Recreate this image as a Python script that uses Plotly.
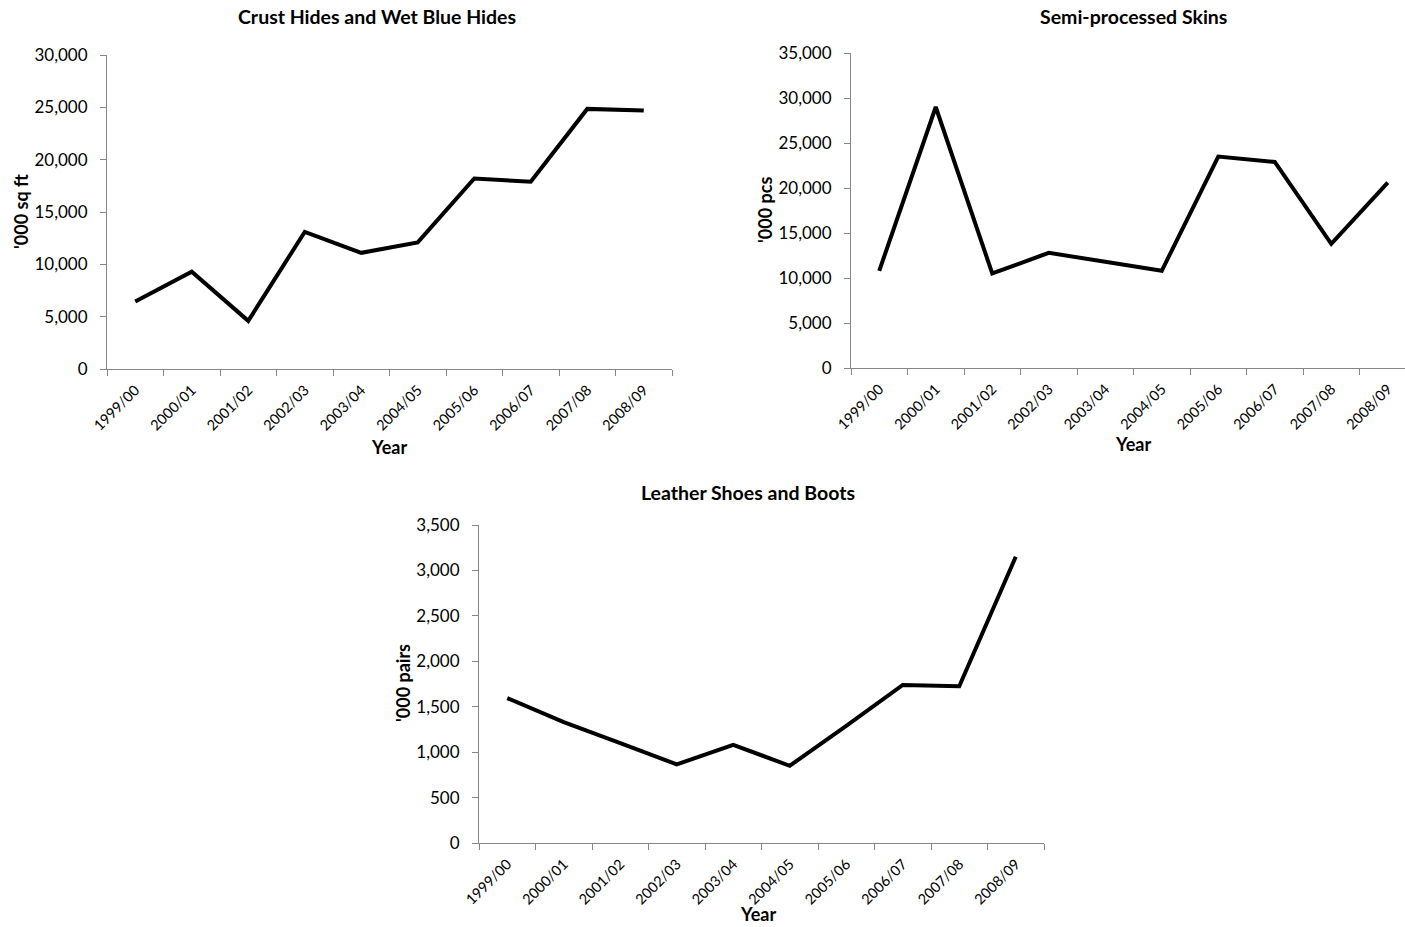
import plotly.graph_objects as go

years = ["1999/00", "2000/01", "2001/02", "2002/03", "2003/04",
         "2004/05", "2005/06", "2006/07", "2007/08", "2008/09"]
crust_hides = [6450, 9300, 4600, 13100, 11100, 12100, 18200, 17900, 24850, 24700]
semi_skins = [10800, 29000, 10500, 12800, 11800, 10800, 23500, 22900, 13800, 20600]
shoes_boots = [1595, 1330, 1100, 865, 1080, 850, 1290, 1740, 1725, 3150]

titles = ["Crust Hides and Wet Blue Hides", "Semi-processed Skins", "Leather Shoes and Boots"]
ytitles = ["'000 sq ft", "'000 pcs", "'000 pairs"]

W, H = 1405, 927
FONT = "Lato, Carlito, sans-serif"

def px(x):
    return x / W

def py(y):
    return 1 - y / H

fig = go.Figure()
series = [crust_hides, semi_skins, shoes_boots]
for i, s in enumerate(series):
    fig.add_trace(go.Scatter(x=years, y=s, mode="lines",
                             line=dict(color="black", width=4),
                             xaxis="x" if i == 0 else f"x{i+1}",
                             yaxis="y" if i == 0 else f"y{i+1}",
                             showlegend=False))

# geometry (pixels)
boxes = [
    dict(x0=107, x1=672, y0=55, y1=369, xr=[-0.5, 9.5]),
    dict(x0=851, x1=1405, y0=53, y1=368, xr=[-0.5, 9.5 - 11 / 56.4]),
    dict(x0=479, x1=1044, y0=525, y1=843, xr=[-0.5, 9.5]),
]
yranges = [(30000, 5000), (35000, 5000), (3500, 500)]

axis_common = dict(showline=True, linecolor="#868686", linewidth=1,
                   ticks="outside", tickcolor="#868686", ticklen=6,
                   showgrid=False, zeroline=False, automargin=False)

for i, b in enumerate(boxes):
    xa = "xaxis" if i == 0 else f"xaxis{i+1}"
    ya = "yaxis" if i == 0 else f"yaxis{i+1}"
    yid = "y" if i == 0 else f"y{i+1}"
    xid = "x" if i == 0 else f"x{i+1}"
    fig.update_layout({
        xa: dict(domain=[px(b["x0"]), px(b["x1"])], anchor=yid,
                 type="category", range=b["xr"], tickangle=-45,
                 tickson="boundaries", ticklabelstandoff=6,
                 tickfont=dict(family=FONT, size=14.5, color="black"),
                 **axis_common),
        ya: dict(domain=[py(b["y1"]), py(b["y0"])], anchor=xid,
                 range=[0, yranges[i][0]], dtick=yranges[i][1],
                 tickformat=",", ticklabelstandoff=9,
                 tickfont=dict(family=FONT, size=17, color="black"),
                 **axis_common),
    })

annotations = []
title_pos = [(377, 17), (1133, 17), (748, 492)]
for (x, y), t in zip(title_pos, titles):
    annotations.append(dict(x=px(x), y=py(y), xref="paper", yref="paper",
                            text=f"<b>{t}</b>", showarrow=False,
                            font=dict(family=FONT, size=19.5, color="black"),
                            xanchor="center", yanchor="middle"))
year_pos = [(389, 447), (1133, 444), (758, 914)]
for x, y in year_pos:
    annotations.append(dict(x=px(x), y=py(y), xref="paper", yref="paper",
                            text="<b>Year</b>", showarrow=False,
                            font=dict(family=FONT, size=18, color="black"),
                            xanchor="center", yanchor="middle"))
ytitle_pos = [(21, 212), (765, 210), (403, 683)]
for (x, y), t in zip(ytitle_pos, ytitles):
    annotations.append(dict(x=px(x), y=py(y), xref="paper", yref="paper",
                            text=f"<b>{t}</b>", showarrow=False, textangle=-90,
                            font=dict(family=FONT, size=18, color="black"),
                            xanchor="center", yanchor="middle"))

fig.update_layout(width=W, height=H, margin=dict(l=0, r=0, t=0, b=0),
                  plot_bgcolor="white", paper_bgcolor="white",
                  annotations=annotations,
                  font=dict(family=FONT, color="black"))

fig.write_html("out.html")
